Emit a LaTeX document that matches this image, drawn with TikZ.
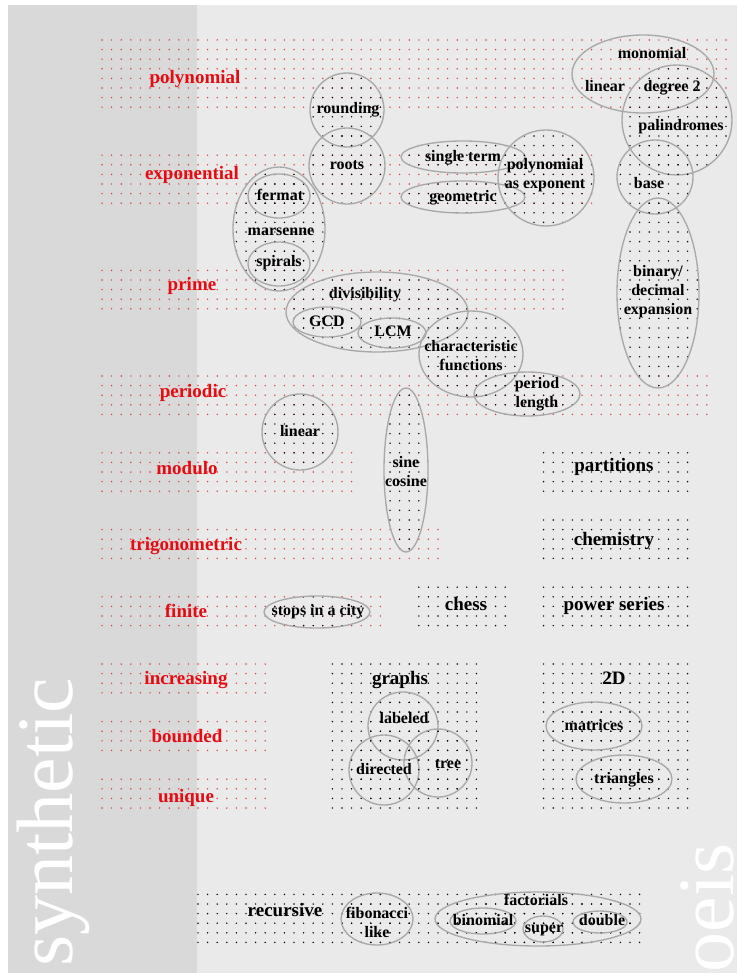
\documentclass[tikz,border=0pt]{standalone}
\usepackage{fontspec}
\setmainfont{Liberation Serif}
\definecolor{stripgray}{RGB}{217,217,217}
\definecolor{panelgray}{RGB}{234,234,234}
\definecolor{catred}{RGB}{228,12,18}
\definecolor{dotred}{RGB}{238,50,50}
\definecolor{ringgray}{RGB}{168,168,168}

% dot lattice: pitch 9.6, origin (102,40)
\newcommand\dotpatch[5]{%
  \foreach \i in {#2,...,#3}
    \foreach \j in {#4,...,#5}
      \fill[#1] (102+9.6*\i, 40+9.6*\j) circle (0.6pt);
}
% dotted ellipse: cx, cy, rx, ry
\newcommand\blob[4]{%
  \pgfmathtruncatemacro\ilo{floor((#1-#3-102)/9.6)}%
  \pgfmathtruncatemacro\ihi{ceil((#1+#3-102)/9.6)}%
  \pgfmathtruncatemacro\jlo{floor((#2-#4-40)/9.6)}%
  \pgfmathtruncatemacro\jhi{ceil((#2+#4-40)/9.6)}%
  \begin{scope}
    \clip (#1,#2) ellipse [x radius=#3, y radius=#4];
    \dotpatch{black}{\ilo}{\ihi}{\jlo}{\jhi}
  \end{scope}
  \draw[ring] (#1,#2) ellipse [x radius=#3, y radius=#4];
}

\begin{document}
\begin{tikzpicture}[
  x=0.75pt, y=-0.75pt,
  cat/.style={text=catred, font=\fontsize{14.25}{17}\selectfont\bfseries,
              inner sep=0pt, text height=0.7em, text depth=0.2em},
  head/.style={font=\fontsize{14.25}{17}\selectfont\bfseries,
               inner sep=0pt, text height=0.7em, text depth=0.2em},
  topic/.style={font=\fontsize{12}{14.25}\selectfont\bfseries,
                inner sep=0pt, text height=0.7em, text depth=0.2em},
  stack/.style={font=\fontsize{12}{14.25}\selectfont\bfseries,
                inner sep=0pt, align=center},
  ring/.style={draw=ringgray, line width=1pt},
  banner/.style={text=white, font=\fontsize{60}{60}\selectfont,
                 rotate=90, anchor=base, inner sep=0pt}
]

  % Background
  \fill[white] (0,0) rectangle (737,973);
  \fill[panelgray] (8,5) rectangle (737,973);
  \fill[stripgray] (8,5) rectangle (197,973);
  \useasboundingbox (0,0) rectangle (737,973);

  % Side titles
  \node[banner] (synth) at (72,822)  {synthetic};
  \node[banner] (oeis)  at (733,908) {oeis};

  % ── Red rows ──────────────────────────────────────────────
  \dotpatch{dotred}{0}{65}{0}{7}    % polynomial
  \dotpatch{dotred}{0}{51}{12}{17}  % exponential
  \dotpatch{dotred}{0}{48}{24}{28}  % prime
  \dotpatch{dotred}{0}{63}{35}{39}  % periodic
  \dotpatch{dotred}{0}{26}{43}{47}  % modulo
  \dotpatch{dotred}{0}{35}{51}{54}  % trigonometric
  \dotpatch{dotred}{0}{29}{58}{61}  % finite
  \dotpatch{dotred}{0}{17}{65}{68}  % increasing
  \dotpatch{dotred}{0}{17}{71}{74}  % bounded
  \dotpatch{dotred}{0}{17}{77}{80}  % unique

  % ── Black blocks ──────────────────────────────────────────
  \dotpatch{black}{46}{61}{43}{47}  % partitions
  \dotpatch{black}{46}{61}{50}{54}  % chemistry
  \dotpatch{black}{46}{61}{57}{61}  % power series
  \dotpatch{black}{33}{42}{57}{61}  % chess
  \dotpatch{black}{24}{39}{65}{80}  % graphs
  \dotpatch{black}{46}{61}{65}{80}  % 2D
  \dotpatch{black}{10}{56}{89}{94}  % recursive

  % ── Ellipses ──────────────────────────────────────────────
  \draw[ring] (643,74) ellipse [x radius=71, y radius=39];  % monomial
  \blob{677}{120}{55}{55}   % palindromes
  \blob{347}{110}{37}{37}   % rounding
  \blob{347}{166}{38}{38}   % roots
  \blob{279}{229}{46}{62}   % fermat group
  \blob{279}{196}{31}{22}   % fermat
  \blob{279}{264}{31}{22}   % spirals
  \blob{463}{157}{62}{16}   % single term
  \blob{463}{197}{62}{16}   % geometric
  \blob{546}{178}{48}{48}   % polynomial as exponent
  \blob{655}{177}{38}{37}   % base
  \blob{658}{293}{41}{95}   % expansion
  \blob{377}{312}{91}{40}   % divisibility
  \blob{327}{322}{34}{15}   % GCD
  \blob{392}{333}{34}{15}   % LCM
  \blob{471}{354}{52}{43}   % characteristic
  \blob{527}{394}{53}{22}   % period length
  \blob{300}{432}{38}{38}   % linear
  \blob{406}{470}{22}{82}   % sine cosine
  \blob{317}{612}{53}{16}   % stops in a city
  \blob{403}{726}{35}{34}   % labeled
  \blob{384}{770}{35}{35}   % directed
  \blob{438}{763}{34}{34}   % tree
  \blob{594}{726}{48}{24}   % matrices
  \blob{624}{779}{48}{24}   % triangles
  \blob{377}{919}{36}{26}   % fibonacci
  \blob{538}{919}{103}{27}  % factorials
  \blob{483}{921}{33}{13}   % binomial
  \blob{543}{929}{20}{13}   % super
  \blob{600}{922}{27}{11}   % double

  % ── Categories ────────────────────────────────────────────
  \node[cat] (poly)  at (195,80)  {polynomial};
  \node[cat] (expo)  at (192,176) {exponential};
  \node[cat] (prime) at (192,287) {prime};
  \node[cat] (peri)  at (193,394) {periodic};
  \node[cat] (modu)  at (187,471) {modulo};
  \node[cat] (trig)  at (186,547) {trigonometric};
  \node[cat] (fin)   at (186,614) {finite};
  \node[cat] (incr)  at (186,681) {increasing};
  \node[cat] (bnd)   at (187,739) {bounded};
  \node[cat] (uniq)  at (186,799) {unique};

  % ── Block headings ────────────────────────────────────────
  \node[head] (part)  at (614,468) {partitions};
  \node[head] (chem)  at (614,542) {chemistry};
  \node[head] (pows)  at (614,607) {power series};
  \node[head] (chess) at (466,607) {chess};
  \node[head] (graph) at (400,681) {graphs};
  \node[head] (twod)  at (614,681) {2D};
  \node[head] (recur) at (285,913) {recursive};

  % ── Topics ────────────────────────────────────────────────
  \node[topic] (mono)  at (652,55)  {monomial};
  \node[topic] (lin)   at (605,88)  {linear};
  \node[topic] (deg)   at (672,88)  {degree 2};
  \node[topic] (pal)   at (681,127) {palindromes};
  \node[topic] (round) at (348,110) {rounding};
  \node[topic] (roots) at (347,166) {roots};
  \node[topic] (ferm)  at (280,197) {fermat};
  \node[topic] (mars)  at (281,232) {marsenne};
  \node[topic] (spir)  at (279,263) {spirals};
  \node[topic] (sing)  at (463,158) {single term};
  \node[topic] (geom)  at (463,198) {geometric};
  \node[stack] (pexp)  at (545,175) {polynomial\\as exponent};
  \node[topic] (base)  at (649,185) {base};
  \node[stack] (expn)  at (658,292) {binary/\\decimal\\expansion};
  \node[topic] (divi)  at (365,295) {divisibility};
  \node[topic] (gcd)   at (327,323) {GCD};
  \node[topic] (lcm)   at (393,333) {LCM};
  \node[stack] (char)  at (471,356) {characteristic\\functions};
  \node[stack] (plen)  at (537,394) {period\\length};
  \node[topic] (plin)  at (300,433) {linear};
  \node[stack] (sine)  at (406,472) {sine\\cosine};
  \node[topic] (stops) at (318,612) {stops in a city};
  \node[topic] (lab)   at (404,720) {labeled};
  \node[topic] (dir)   at (384,771) {directed};
  \node[topic] (tree)  at (448,765) {tree};
  \node[topic] (matr)  at (594,727) {matrices};
  \node[topic] (tria)  at (624,780) {triangles};
  \node[stack] (fibo)  at (377,922) {fibonacci\\like};
  \node[topic] (fact)  at (536,902) {factorials};
  \node[topic] (binom) at (483,922) {binomial};
  \node[topic] (super) at (544,929) {super};
  \node[topic] (dbl)   at (602,922) {double};

\end{tikzpicture}
\end{document}
